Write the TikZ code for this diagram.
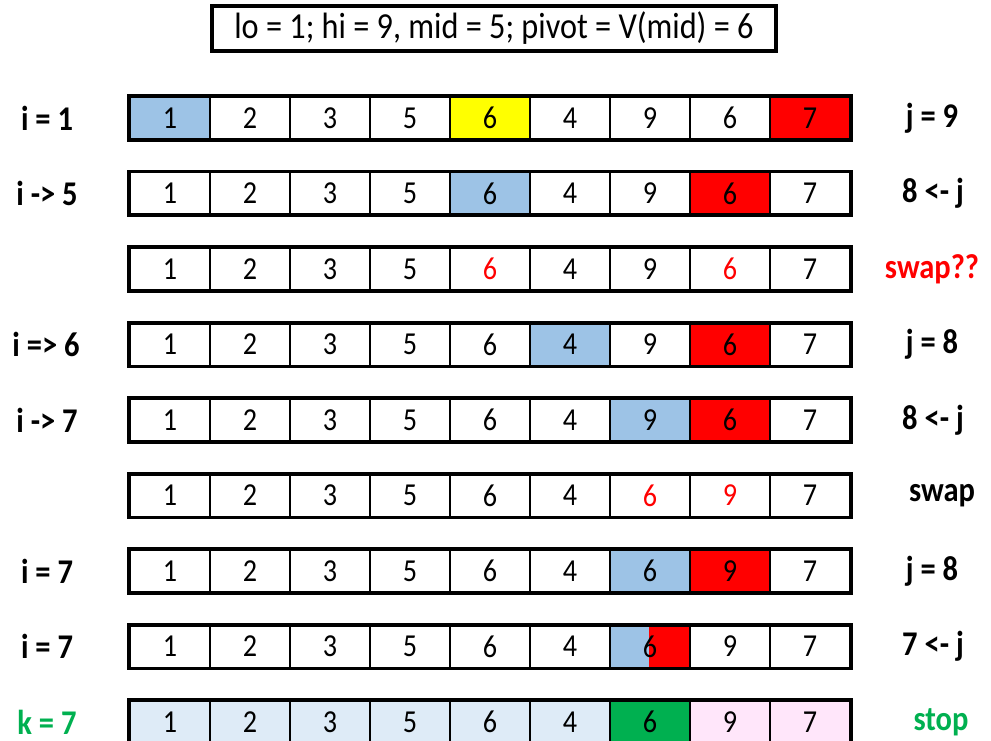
\documentclass[tikz,border=0pt]{standalone}
\usepackage{fontspec}
\setmainfont{Carlito}[FakeStretch=0.88]
\definecolor{selblue}{HTML}{9DC3E6}
\definecolor{pivyel}{HTML}{FFFF00}
\definecolor{hired}{HTML}{FF0000}
\definecolor{donegreen}{HTML}{00B050}
\definecolor{lowblue}{HTML}{DEEBF7}
\definecolor{highpink}{HTML}{FFE6FA}
\begin{document}
\begin{tikzpicture}[x=0.75pt, y=-0.75pt,
    cell/.style={draw, line width=1.5pt, minimum width=60pt, minimum height=31.5pt,
      inner sep=0pt, font=\fontsize{24}{27}\selectfont},
    rowbox/.style={draw, line width=2.4pt},
    lbl/.style={font=\fontsize{26}{29}\selectfont\bfseries},
    nofill/.style={fill=white},
    bluef/.style={fill=selblue},
    yelf/.style={fill=pivyel},
    redf/.style={fill=hired},
    splitf/.style={path picture={
        \fill[hired] (path picture bounding box.south west) rectangle (path picture bounding box.north east);
        \fill[selblue] (path picture bounding box.south west) rectangle ([xshift=-0.75pt]path picture bounding box.north);}},
    lowf/.style={fill=lowblue},
    greenf/.style={fill=donegreen},
    pinkf/.style={fill=highpink}
  ]
    \useasboundingbox (0,0) rectangle (991,741);
    \node[draw, line width=2.4pt, minimum width=423pt, minimum height=33.75pt, inner sep=0pt,
      font=\fontsize{27.5}{30}\selectfont] (title) at (494,28.5)
      {lo = 1; hi = 9, mid = 5; pivot = V(mid) = 6};

    % one row of the array per step
    \foreach \r/\cells in {
      1/{1/bluef/black, 2/nofill/black, 3/nofill/black, 5/nofill/black, 6/yelf/black, 4/nofill/black, 9/nofill/black, 6/nofill/black, 7/redf/black},
      2/{1/nofill/black, 2/nofill/black, 3/nofill/black, 5/nofill/black, 6/bluef/black, 4/nofill/black, 9/nofill/black, 6/redf/black, 7/nofill/black},
      3/{1/nofill/black, 2/nofill/black, 3/nofill/black, 5/nofill/black, 6/nofill/hired, 4/nofill/black, 9/nofill/black, 6/nofill/hired, 7/nofill/black},
      4/{1/nofill/black, 2/nofill/black, 3/nofill/black, 5/nofill/black, 6/nofill/black, 4/bluef/black, 9/nofill/black, 6/redf/black, 7/nofill/black},
      5/{1/nofill/black, 2/nofill/black, 3/nofill/black, 5/nofill/black, 6/nofill/black, 4/nofill/black, 9/bluef/black, 6/redf/black, 7/nofill/black},
      6/{1/nofill/black, 2/nofill/black, 3/nofill/black, 5/nofill/black, 6/nofill/black, 4/nofill/black, 6/nofill/hired, 9/nofill/hired, 7/nofill/black},
      7/{1/nofill/black, 2/nofill/black, 3/nofill/black, 5/nofill/black, 6/nofill/black, 4/nofill/black, 6/bluef/black, 9/redf/black, 7/nofill/black},
      8/{1/nofill/black, 2/nofill/black, 3/nofill/black, 5/nofill/black, 6/nofill/black, 4/nofill/black, 6/splitf/black, 9/nofill/black, 7/nofill/black},
      9/{1/lowf/black, 2/lowf/black, 3/lowf/black, 5/lowf/black, 6/lowf/black, 4/lowf/black, 6/greenf/black, 9/pinkf/black, 7/pinkf/black}}
    {
      \pgfmathsetmacro{\yy}{118+75.5*(\r-1)}
      \foreach \v/\f/\t [count=\c] in \cells
        \node[cell, \f, text=\t] (c\r-\c) at ({90+80*\c},\yy) {\v};
      \draw[rowbox] (c\r-1.north west) rectangle (c\r-9.south east);
    }

    % pointer labels
    \node[lbl] (il1) at (47,118) {i = 1};
    \node[lbl] (il2) at (47,193.5) {i -> 5};
    \node[lbl] (il4) at (46,344.5) {i => 6};
    \node[lbl] (il5) at (47,420) {i -> 7};
    \node[lbl] (il7) at (47,571) {i = 7};
    \node[lbl] (il8) at (47,646.5) {i = 7};
    \node[lbl, text=donegreen] (kl9) at (47,722) {k = 7};
    \node[lbl] (jl1) at (932,118) {j = 9};
    \node[lbl] (jl2) at (933,193.5) {8 <- j};
    \node[lbl, text=hired] (sw3) at (932,269) {swap??};
    \node[lbl] (jl4) at (932,344.5) {j = 8};
    \node[lbl] (jl5) at (933,420) {8 <- j};
    \node[lbl] (sw6) at (942,495.5) {swap};
    \node[lbl] (jl7) at (932,571) {j = 8};
    \node[lbl] (jl8) at (933,646.5) {7 <- j};
    \node[lbl, text=donegreen] (st9) at (941,722) {stop};
\end{tikzpicture}
\end{document}
